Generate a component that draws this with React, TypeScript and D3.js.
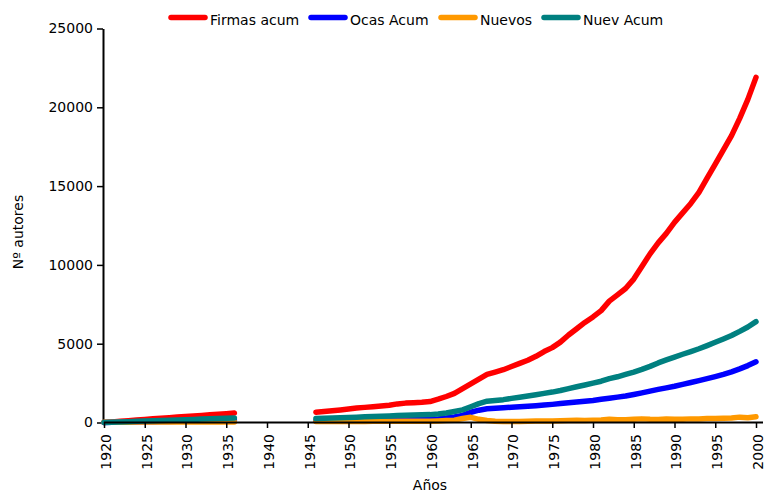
import React, { useEffect, useRef } from 'react';
import * as d3 from 'd3';

// years 1937-1945 have no data (null)
const years = d3.range(1920, 2001);

const firmasEarly = [0, 40, 80, 115, 155, 195, 235, 270, 305, 345, 380, 415, 450, 490, 525, 560, 600];
const firmasLate = [650, 700, 750, 800, 860, 920, 960, 1000, 1050, 1100, 1180, 1230, 1250, 1280, 1330, 1480, 1650, 1850, 2150, 2450,
  2750, 3050, 3200, 3350, 3550, 3750, 3950, 4200, 4500, 4750, 5100, 5550, 5950, 6350, 6700, 7100, 7700, 8100, 8500, 9100,
  9900, 10700, 11400, 12000, 12700, 13300, 13900, 14600, 15500, 16400, 17300, 18200, 19300, 20500, 21900];

const ocasEarly = [0, 8, 16, 25, 33, 42, 50, 58, 67, 75, 85, 95, 105, 115, 125, 135, 150];
const ocasLate = [100, 108, 115, 122, 130, 138, 146, 154, 162, 170, 176, 182, 188, 194, 200, 230, 280, 350, 450, 650,
  780, 870, 910, 940, 970, 1000, 1030, 1070, 1110, 1150, 1200, 1250, 1300, 1350, 1400, 1470, 1540, 1610, 1680, 1780,
  1880, 1990, 2100, 2200, 2300, 2420, 2540, 2660, 2780, 2910, 3050, 3210, 3400, 3610, 3850];

const nuevosEarly = [20, 20, 22, 22, 24, 24, 25, 26, 26, 28, 28, 30, 30, 32, 32, 34, 35];
const nuevosLate = [60, 62, 64, 66, 68, 70, 70, 72, 74, 74, 76, 78, 78, 80, 80, 100, 120, 150, 250, 330,
  200, 130, 80, 60, 60, 70, 80, 90, 100, 100, 110, 130, 140, 130, 150, 160, 200, 170, 180, 200,
  230, 200, 190, 220, 210, 200, 230, 220, 250, 260, 270, 280, 340, 300, 360];

const nuevAcumEarly = [0, 18, 36, 54, 72, 90, 108, 126, 144, 162, 180, 198, 216, 234, 252, 270, 290];
const nuevAcumLate = [250, 265, 280, 295, 320, 340, 360, 380, 400, 420, 440, 455, 470, 485, 500, 540, 600, 700, 800, 1000,
  1200, 1350, 1400, 1450, 1530, 1600, 1680, 1760, 1850, 1930, 2030, 2150, 2270, 2380, 2500, 2620, 2780, 2900, 3050, 3200,
  3370, 3560, 3780, 3970, 4150, 4330, 4500, 4680, 4880, 5090, 5300, 5520, 5780, 6060, 6400];

const gap: (number | null)[] = Array(9).fill(null);
const build = (early: number[], late: number[]) => [...early, ...gap, ...late];

const series = [
  { name: 'Firmas acum', color: '#ff0000', values: build(firmasEarly, firmasLate) },
  { name: 'Ocas Acum', color: '#0000ff', values: build(ocasEarly, ocasLate) },
  { name: 'Nuevos', color: '#ff9900', values: build(nuevosEarly, nuevosLate) },
  { name: 'Nuev Acum', color: '#008080', values: build(nuevAcumEarly, nuevAcumLate) },
];

const xTicks = d3.range(1920, 2001, 5);
const yTicks = [0, 5000, 10000, 15000, 20000, 25000];
const legendX = [168, 308, 438, 541];

const W = 765;
const H = 494;
const FONT = 'DejaVu Sans, sans-serif';

export default function App() {
  const xAxisRef = useRef<SVGGElement>(null);
  const yAxisRef = useRef<SVGGElement>(null);

  const x = d3.scaleLinear().domain([1920, 2000]).range([104, 756]);
  const y = d3.scaleLinear().domain([0, 25000]).range([422.5, 28.5]);

  useEffect(() => {
    const xa = d3.select(xAxisRef.current);
    xa.selectAll('*').remove();
    xa.call(d3.axisBottom(x).tickValues(xTicks).tickFormat(d3.format('d')).tickSize(6).tickSizeOuter(0));
    xa.select('.domain').attr('d', `M${x(1920)},0.5H763`).attr('stroke-width', 2);
    xa.selectAll('.tick line').attr('stroke-width', 1.5);
    xa.selectAll('.tick text')
      .attr('transform', 'rotate(-90)')
      .attr('x', -12)
      .attr('y', 0)
      .attr('dy', '0.45em')
      .attr('text-anchor', 'end')
      .attr('font-size', 14)
      .attr('font-family', FONT)
      .attr('fill', '#000');

    const ya = d3.select(yAxisRef.current);
    ya.selectAll('*').remove();
    ya.call(d3.axisLeft(y).tickValues(yTicks).tickFormat(d3.format('d')).tickSize(6).tickSizeOuter(0));
    ya.select('.domain').attr('stroke-width', 2);
    ya.selectAll('.tick line').attr('stroke-width', 1.5);
    ya.selectAll('.tick text')
      .attr('x', -10)
      .attr('font-size', 14)
      .attr('font-family', FONT)
      .attr('fill', '#000');
  }, []);

  const line = d3.line<number | null>()
    .defined(d => d != null)
    .x((_, i) => x(years[i]))
    .y(d => y(d as number));

  return (
    <svg width={W} height={H} style={{ position: 'absolute', left: 0, top: 0, background: '#fff' }}>
      <g ref={yAxisRef} transform="translate(103,0)" />
      {series.map(s => (
        <path key={s.name} d={line(s.values) || ''} fill="none" stroke={s.color}
          strokeWidth={5.5} strokeLinecap="round" strokeLinejoin="round" />
      ))}
      <g ref={xAxisRef} transform="translate(0,422)" />
      {series.map((s, i) => (
        <g key={s.name}>
          <line x1={legendX[i] + 3} x2={legendX[i] + 37} y1={17.5} y2={17.5} stroke={s.color}
            strokeWidth={5.5} strokeLinecap="round" />
          <text x={legendX[i] + 42} y={25} fontFamily={FONT} fontSize={14} fill="#000">{s.name}</text>
        </g>
      ))}
      <text x={430} y={490} textAnchor="middle" fontFamily={FONT} fontSize={14} fill="#000">Años</text>
      <text transform="translate(23,232) rotate(-90)" textAnchor="middle" fontFamily={FONT} fontSize={14} fill="#000">Nº autores</text>
    </svg>
  );
}
